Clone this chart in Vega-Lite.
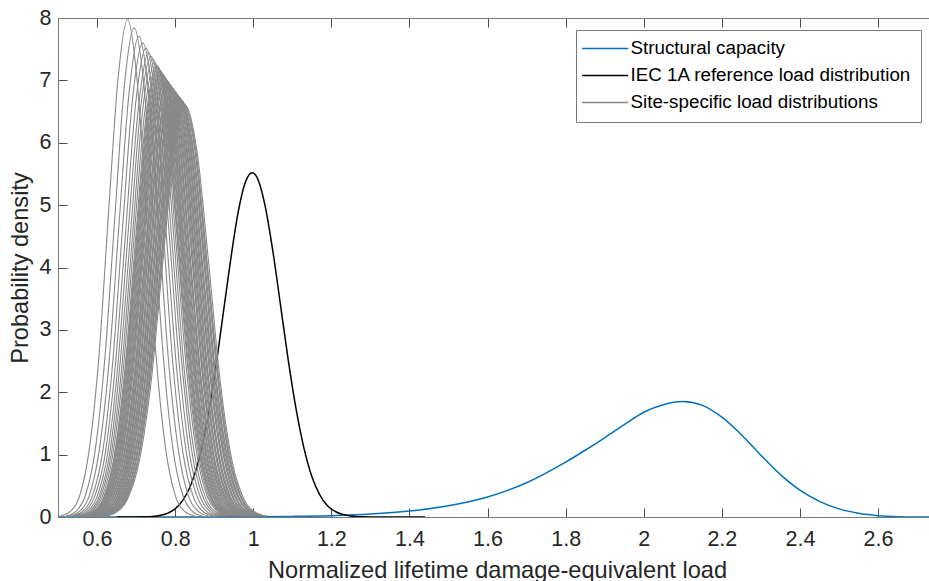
{
"$schema": "https://vega.github.io/schema/vega-lite/v6.json",
"width": 871, "height": 499,
"autosize": {"type": "none"},
"padding": {"left": 58, "top": 18, "right": 0, "bottom": 64},
"background": "white",
"config": {"view": {"stroke": null}, "font": "Liberation Sans"},
"datasets": {
"cap": [
{"x":0.5,"y":0},{"x":0.6,"y":0},{"x":0.7,"y":0},{"x":0.8,"y":0.001},{"x":0.9,"y":0.002},{"x":1.0,"y":0.004},{"x":1.1,"y":0.01},{"x":1.2,"y":0.022},{"x":1.3,"y":0.047},{"x":1.4,"y":0.095},{"x":1.5,"y":0.18},{"x":1.6,"y":0.32},{"x":1.7,"y":0.55},{"x":1.8,"y":0.88},{"x":1.85,"y":1.07},{"x":1.9,"y":1.27},{"x":1.95,"y":1.48},{"x":2.0,"y":1.68},{"x":2.05,"y":1.8},{"x":2.1,"y":1.85},{"x":2.15,"y":1.79},{"x":2.2,"y":1.6},{"x":2.25,"y":1.32},{"x":2.3,"y":0.99},{"x":2.35,"y":0.68},{"x":2.4,"y":0.43},{"x":2.45,"y":0.25},{"x":2.5,"y":0.13},{"x":2.55,"y":0.06},{"x":2.6,"y":0.022},{"x":2.65,"y":0.006},{"x":2.7,"y":0.001},{"x":2.75,"y":0}
],
"iec": [
{"x":0.65,"y":0},{"x":0.7,"y":0.001},{"x":0.72,"y":0.003},{"x":0.74,"y":0.009},{"x":0.76,"y":0.024},{"x":0.78,"y":0.059},{"x":0.8,"y":0.13},{"x":0.82,"y":0.27},{"x":0.84,"y":0.51},{"x":0.86,"y":0.9},{"x":0.88,"y":1.47},{"x":0.9,"y":2.23},{"x":0.92,"y":3.12},{"x":0.94,"y":4.03},{"x":0.96,"y":4.84},{"x":0.98,"y":5.37},{"x":0.997,"y":5.52},{"x":1.01,"y":5.44},{"x":1.03,"y":5.0},{"x":1.05,"y":4.27},{"x":1.07,"y":3.39},{"x":1.09,"y":2.5},{"x":1.11,"y":1.72},{"x":1.13,"y":1.1},{"x":1.15,"y":0.65},{"x":1.17,"y":0.36},{"x":1.19,"y":0.18},{"x":1.21,"y":0.088},{"x":1.23,"y":0.039},{"x":1.25,"y":0.016},{"x":1.28,"y":0.004},{"x":1.32,"y":0.0005},{"x":1.44,"y":0}
],
"site": [
{"c":1,"x":0.507,"y":0.018},{"c":1,"x":0.532,"y":0.089},{"c":1,"x":0.556,"y":0.35},{"c":1,"x":0.58,"y":1.08},{"c":1,"x":0.605,"y":2.591},{"c":1,"x":0.629,"y":4.84},{"c":1,"x":0.654,"y":7.042},{"c":1,"x":0.678,"y":7.98},{"c":1,"x":0.702,"y":7.042},{"c":1,"x":0.727,"y":4.84},{"c":1,"x":0.751,"y":2.591},{"c":1,"x":0.776,"y":1.08},{"c":1,"x":0.8,"y":0.35},{"c":1,"x":0.824,"y":0.089},{"c":1,"x":0.849,"y":0.018},
{"c":2,"x":0.52,"y":0.017},{"c":2,"x":0.545,"y":0.087},{"c":2,"x":0.57,"y":0.344},{"c":2,"x":0.595,"y":1.061},{"c":2,"x":0.62,"y":2.546},{"c":2,"x":0.645,"y":4.756},{"c":2,"x":0.67,"y":6.92},{"c":2,"x":0.695,"y":7.842},{"c":2,"x":0.72,"y":6.92},{"c":2,"x":0.745,"y":4.756},{"c":2,"x":0.77,"y":2.546},{"c":2,"x":0.795,"y":1.061},{"c":2,"x":0.82,"y":0.344},{"c":2,"x":0.845,"y":0.087},{"c":2,"x":0.87,"y":0.017},
{"c":3,"x":0.529,"y":0.017},{"c":3,"x":0.554,"y":0.086},{"c":3,"x":0.58,"y":0.338},{"c":3,"x":0.605,"y":1.043},{"c":3,"x":0.631,"y":2.503},{"c":3,"x":0.656,"y":4.675},{"c":3,"x":0.682,"y":6.803},{"c":3,"x":0.707,"y":7.709},{"c":3,"x":0.732,"y":6.803},{"c":3,"x":0.758,"y":4.675},{"c":3,"x":0.783,"y":2.503},{"c":3,"x":0.809,"y":1.043},{"c":3,"x":0.834,"y":0.338},{"c":3,"x":0.86,"y":0.086},{"c":3,"x":0.885,"y":0.017},
{"c":4,"x":0.536,"y":0.017},{"c":4,"x":0.562,"y":0.084},{"c":4,"x":0.588,"y":0.334},{"c":4,"x":0.614,"y":1.028},{"c":4,"x":0.64,"y":2.468},{"c":4,"x":0.665,"y":4.61},{"c":4,"x":0.691,"y":6.708},{"c":4,"x":0.717,"y":7.601},{"c":4,"x":0.743,"y":6.708},{"c":4,"x":0.769,"y":4.61},{"c":4,"x":0.794,"y":2.468},{"c":4,"x":0.82,"y":1.028},{"c":4,"x":0.846,"y":0.334},{"c":4,"x":0.872,"y":0.084},{"c":4,"x":0.898,"y":0.017},
{"c":5,"x":0.542,"y":0.017},{"c":5,"x":0.568,"y":0.083},{"c":5,"x":0.594,"y":0.33},{"c":5,"x":0.621,"y":1.017},{"c":5,"x":0.647,"y":2.441},{"c":5,"x":0.673,"y":4.559},{"c":5,"x":0.699,"y":6.634},{"c":5,"x":0.725,"y":7.517},{"c":5,"x":0.751,"y":6.634},{"c":5,"x":0.777,"y":4.559},{"c":5,"x":0.803,"y":2.441},{"c":5,"x":0.829,"y":1.017},{"c":5,"x":0.856,"y":0.33},{"c":5,"x":0.882,"y":0.083},{"c":5,"x":0.908,"y":0.017},
{"c":6,"x":0.548,"y":0.016},{"c":6,"x":0.574,"y":0.083},{"c":6,"x":0.6,"y":0.327},{"c":6,"x":0.627,"y":1.007},{"c":6,"x":0.653,"y":2.417},{"c":6,"x":0.679,"y":4.515},{"c":6,"x":0.706,"y":6.57},{"c":6,"x":0.732,"y":7.445},{"c":6,"x":0.758,"y":6.57},{"c":6,"x":0.785,"y":4.515},{"c":6,"x":0.811,"y":2.417},{"c":6,"x":0.837,"y":1.007},{"c":6,"x":0.864,"y":0.327},{"c":6,"x":0.89,"y":0.083},{"c":6,"x":0.916,"y":0.016},
{"c":7,"x":0.552,"y":0.016},{"c":7,"x":0.579,"y":0.082},{"c":7,"x":0.605,"y":0.324},{"c":7,"x":0.632,"y":0.999},{"c":7,"x":0.658,"y":2.398},{"c":7,"x":0.685,"y":4.479},{"c":7,"x":0.711,"y":6.517},{"c":7,"x":0.738,"y":7.385},{"c":7,"x":0.765,"y":6.517},{"c":7,"x":0.791,"y":4.479},{"c":7,"x":0.818,"y":2.398},{"c":7,"x":0.844,"y":0.999},{"c":7,"x":0.871,"y":0.324},{"c":7,"x":0.897,"y":0.082},{"c":7,"x":0.924,"y":0.016},
{"c":8,"x":0.556,"y":0.016},{"c":8,"x":0.583,"y":0.081},{"c":8,"x":0.609,"y":0.322},{"c":8,"x":0.636,"y":0.992},{"c":8,"x":0.663,"y":2.382},{"c":8,"x":0.69,"y":4.449},{"c":8,"x":0.716,"y":6.473},{"c":8,"x":0.743,"y":7.335},{"c":8,"x":0.77,"y":6.473},{"c":8,"x":0.797,"y":4.449},{"c":8,"x":0.823,"y":2.382},{"c":8,"x":0.85,"y":0.992},{"c":8,"x":0.877,"y":0.322},{"c":8,"x":0.904,"y":0.081},{"c":8,"x":0.93,"y":0.016},
{"c":9,"x":0.56,"y":0.016},{"c":9,"x":0.586,"y":0.081},{"c":9,"x":0.613,"y":0.32},{"c":9,"x":0.64,"y":0.986},{"c":9,"x":0.667,"y":2.366},{"c":9,"x":0.694,"y":4.419},{"c":9,"x":0.721,"y":6.43},{"c":9,"x":0.748,"y":7.286},{"c":9,"x":0.775,"y":6.43},{"c":9,"x":0.802,"y":4.419},{"c":9,"x":0.829,"y":2.366},{"c":9,"x":0.856,"y":0.986},{"c":9,"x":0.883,"y":0.32},{"c":9,"x":0.91,"y":0.081},{"c":9,"x":0.936,"y":0.016},
{"c":10,"x":0.562,"y":0.016},{"c":10,"x":0.59,"y":0.08},{"c":10,"x":0.617,"y":0.318},{"c":10,"x":0.644,"y":0.981},{"c":10,"x":0.671,"y":2.353},{"c":10,"x":0.698,"y":4.395},{"c":10,"x":0.725,"y":6.396},{"c":10,"x":0.752,"y":7.247},{"c":10,"x":0.779,"y":6.396},{"c":10,"x":0.806,"y":4.395},{"c":10,"x":0.833,"y":2.353},{"c":10,"x":0.86,"y":0.981},{"c":10,"x":0.887,"y":0.318},{"c":10,"x":0.914,"y":0.08},{"c":10,"x":0.942,"y":0.016},
{"c":11,"x":0.565,"y":0.016},{"c":11,"x":0.593,"y":0.08},{"c":11,"x":0.62,"y":0.316},{"c":11,"x":0.647,"y":0.975},{"c":11,"x":0.674,"y":2.341},{"c":11,"x":0.702,"y":4.372},{"c":11,"x":0.729,"y":6.362},{"c":11,"x":0.756,"y":7.209},{"c":11,"x":0.783,"y":6.362},{"c":11,"x":0.81,"y":4.372},{"c":11,"x":0.838,"y":2.341},{"c":11,"x":0.865,"y":0.975},{"c":11,"x":0.892,"y":0.316},{"c":11,"x":0.919,"y":0.08},{"c":11,"x":0.947,"y":0.016},
{"c":12,"x":0.568,"y":0.016},{"c":12,"x":0.596,"y":0.08},{"c":12,"x":0.623,"y":0.315},{"c":12,"x":0.651,"y":0.97},{"c":12,"x":0.678,"y":2.328},{"c":12,"x":0.705,"y":4.349},{"c":12,"x":0.733,"y":6.328},{"c":12,"x":0.76,"y":7.171},{"c":12,"x":0.787,"y":6.328},{"c":12,"x":0.815,"y":4.349},{"c":12,"x":0.842,"y":2.328},{"c":12,"x":0.869,"y":0.97},{"c":12,"x":0.897,"y":0.315},{"c":12,"x":0.924,"y":0.08},{"c":12,"x":0.952,"y":0.016},
{"c":13,"x":0.571,"y":0.016},{"c":13,"x":0.599,"y":0.079},{"c":13,"x":0.626,"y":0.313},{"c":13,"x":0.654,"y":0.965},{"c":13,"x":0.681,"y":2.316},{"c":13,"x":0.709,"y":4.327},{"c":13,"x":0.736,"y":6.296},{"c":13,"x":0.764,"y":7.134},{"c":13,"x":0.792,"y":6.296},{"c":13,"x":0.819,"y":4.327},{"c":13,"x":0.847,"y":2.316},{"c":13,"x":0.874,"y":0.965},{"c":13,"x":0.902,"y":0.313},{"c":13,"x":0.929,"y":0.079},{"c":13,"x":0.957,"y":0.016},
{"c":14,"x":0.574,"y":0.016},{"c":14,"x":0.602,"y":0.079},{"c":14,"x":0.63,"y":0.312},{"c":14,"x":0.657,"y":0.96},{"c":14,"x":0.685,"y":2.304},{"c":14,"x":0.713,"y":4.304},{"c":14,"x":0.74,"y":6.262},{"c":14,"x":0.768,"y":7.096},{"c":14,"x":0.796,"y":6.262},{"c":14,"x":0.823,"y":4.304},{"c":14,"x":0.851,"y":2.304},{"c":14,"x":0.879,"y":0.96},{"c":14,"x":0.906,"y":0.312},{"c":14,"x":0.934,"y":0.079},{"c":14,"x":0.962,"y":0.016},
{"c":15,"x":0.577,"y":0.016},{"c":15,"x":0.605,"y":0.078},{"c":15,"x":0.633,"y":0.31},{"c":15,"x":0.661,"y":0.955},{"c":15,"x":0.689,"y":2.292},{"c":15,"x":0.716,"y":4.282},{"c":15,"x":0.744,"y":6.23},{"c":15,"x":0.772,"y":7.06},{"c":15,"x":0.8,"y":6.23},{"c":15,"x":0.828,"y":4.282},{"c":15,"x":0.855,"y":2.292},{"c":15,"x":0.883,"y":0.955},{"c":15,"x":0.911,"y":0.31},{"c":15,"x":0.939,"y":0.078},{"c":15,"x":0.967,"y":0.016},
{"c":16,"x":0.58,"y":0.015},{"c":16,"x":0.608,"y":0.078},{"c":16,"x":0.636,"y":0.308},{"c":16,"x":0.664,"y":0.95},{"c":16,"x":0.692,"y":2.28},{"c":16,"x":0.72,"y":4.259},{"c":16,"x":0.748,"y":6.198},{"c":16,"x":0.776,"y":7.023},{"c":16,"x":0.804,"y":6.198},{"c":16,"x":0.832,"y":4.259},{"c":16,"x":0.86,"y":2.28},{"c":16,"x":0.888,"y":0.95},{"c":16,"x":0.916,"y":0.308},{"c":16,"x":0.944,"y":0.078},{"c":16,"x":0.972,"y":0.015},
{"c":17,"x":0.583,"y":0.015},{"c":17,"x":0.611,"y":0.078},{"c":17,"x":0.639,"y":0.307},{"c":17,"x":0.667,"y":0.947},{"c":17,"x":0.695,"y":2.272},{"c":17,"x":0.723,"y":4.243},{"c":17,"x":0.751,"y":6.174},{"c":17,"x":0.779,"y":6.996},{"c":17,"x":0.807,"y":6.174},{"c":17,"x":0.835,"y":4.243},{"c":17,"x":0.863,"y":2.272},{"c":17,"x":0.891,"y":0.947},{"c":17,"x":0.919,"y":0.307},{"c":17,"x":0.947,"y":0.078},{"c":17,"x":0.975,"y":0.015},
{"c":18,"x":0.585,"y":0.015},{"c":18,"x":0.613,"y":0.077},{"c":18,"x":0.641,"y":0.306},{"c":18,"x":0.669,"y":0.943},{"c":18,"x":0.698,"y":2.263},{"c":18,"x":0.726,"y":4.227},{"c":18,"x":0.754,"y":6.15},{"c":18,"x":0.782,"y":6.969},{"c":18,"x":0.81,"y":6.15},{"c":18,"x":0.838,"y":4.227},{"c":18,"x":0.866,"y":2.263},{"c":18,"x":0.895,"y":0.943},{"c":18,"x":0.923,"y":0.306},{"c":18,"x":0.951,"y":0.077},{"c":18,"x":0.979,"y":0.015},
{"c":19,"x":0.587,"y":0.015},{"c":19,"x":0.615,"y":0.077},{"c":19,"x":0.644,"y":0.305},{"c":19,"x":0.672,"y":0.939},{"c":19,"x":0.7,"y":2.254},{"c":19,"x":0.728,"y":4.211},{"c":19,"x":0.757,"y":6.127},{"c":19,"x":0.785,"y":6.943},{"c":19,"x":0.813,"y":6.127},{"c":19,"x":0.842,"y":4.211},{"c":19,"x":0.87,"y":2.254},{"c":19,"x":0.898,"y":0.939},{"c":19,"x":0.926,"y":0.305},{"c":19,"x":0.955,"y":0.077},{"c":19,"x":0.983,"y":0.015},
{"c":20,"x":0.589,"y":0.015},{"c":20,"x":0.618,"y":0.077},{"c":20,"x":0.646,"y":0.304},{"c":20,"x":0.675,"y":0.936},{"c":20,"x":0.703,"y":2.246},{"c":20,"x":0.731,"y":4.195},{"c":20,"x":0.76,"y":6.103},{"c":20,"x":0.788,"y":6.916},{"c":20,"x":0.816,"y":6.103},{"c":20,"x":0.845,"y":4.195},{"c":20,"x":0.873,"y":2.246},{"c":20,"x":0.901,"y":0.936},{"c":20,"x":0.93,"y":0.304},{"c":20,"x":0.958,"y":0.077},{"c":20,"x":0.987,"y":0.015},
{"c":21,"x":0.592,"y":0.015},{"c":21,"x":0.62,"y":0.076},{"c":21,"x":0.649,"y":0.302},{"c":21,"x":0.677,"y":0.932},{"c":21,"x":0.706,"y":2.237},{"c":21,"x":0.734,"y":4.179},{"c":21,"x":0.763,"y":6.08},{"c":21,"x":0.791,"y":6.89},{"c":21,"x":0.819,"y":6.08},{"c":21,"x":0.848,"y":4.179},{"c":21,"x":0.876,"y":2.237},{"c":21,"x":0.905,"y":0.932},{"c":21,"x":0.933,"y":0.302},{"c":21,"x":0.962,"y":0.076},{"c":21,"x":0.99,"y":0.015},
{"c":22,"x":0.594,"y":0.015},{"c":22,"x":0.622,"y":0.076},{"c":22,"x":0.651,"y":0.301},{"c":22,"x":0.68,"y":0.929},{"c":22,"x":0.708,"y":2.229},{"c":22,"x":0.737,"y":4.163},{"c":22,"x":0.765,"y":6.057},{"c":22,"x":0.794,"y":6.864},{"c":22,"x":0.823,"y":6.057},{"c":22,"x":0.851,"y":4.163},{"c":22,"x":0.88,"y":2.229},{"c":22,"x":0.908,"y":0.929},{"c":22,"x":0.937,"y":0.301},{"c":22,"x":0.966,"y":0.076},{"c":22,"x":0.994,"y":0.015},
{"c":23,"x":0.596,"y":0.015},{"c":23,"x":0.625,"y":0.076},{"c":23,"x":0.654,"y":0.3},{"c":23,"x":0.682,"y":0.925},{"c":23,"x":0.711,"y":2.22},{"c":23,"x":0.74,"y":4.147},{"c":23,"x":0.768,"y":6.035},{"c":23,"x":0.797,"y":6.838},{"c":23,"x":0.826,"y":6.035},{"c":23,"x":0.854,"y":4.147},{"c":23,"x":0.883,"y":2.22},{"c":23,"x":0.912,"y":0.925},{"c":23,"x":0.94,"y":0.3},{"c":23,"x":0.969,"y":0.076},{"c":23,"x":0.998,"y":0.015},
{"c":24,"x":0.598,"y":0.015},{"c":24,"x":0.627,"y":0.076},{"c":24,"x":0.656,"y":0.299},{"c":24,"x":0.685,"y":0.922},{"c":24,"x":0.714,"y":2.212},{"c":24,"x":0.742,"y":4.132},{"c":24,"x":0.771,"y":6.012},{"c":24,"x":0.8,"y":6.813},{"c":24,"x":0.829,"y":6.012},{"c":24,"x":0.858,"y":4.132},{"c":24,"x":0.886,"y":2.212},{"c":24,"x":0.915,"y":0.922},{"c":24,"x":0.944,"y":0.299},{"c":24,"x":0.973,"y":0.076},{"c":24,"x":1.002,"y":0.015},
{"c":25,"x":0.601,"y":0.015},{"c":25,"x":0.63,"y":0.075},{"c":25,"x":0.658,"y":0.298},{"c":25,"x":0.687,"y":0.918},{"c":25,"x":0.716,"y":2.204},{"c":25,"x":0.745,"y":4.116},{"c":25,"x":0.774,"y":5.99},{"c":25,"x":0.803,"y":6.787},{"c":25,"x":0.832,"y":5.99},{"c":25,"x":0.861,"y":4.116},{"c":25,"x":0.89,"y":2.204},{"c":25,"x":0.919,"y":0.918},{"c":25,"x":0.948,"y":0.298},{"c":25,"x":0.976,"y":0.075},{"c":25,"x":1.005,"y":0.015},
{"c":26,"x":0.603,"y":0.015},{"c":26,"x":0.632,"y":0.075},{"c":26,"x":0.661,"y":0.297},{"c":26,"x":0.69,"y":0.915},{"c":26,"x":0.719,"y":2.196},{"c":26,"x":0.748,"y":4.101},{"c":26,"x":0.777,"y":5.967},{"c":26,"x":0.806,"y":6.762},{"c":26,"x":0.835,"y":5.967},{"c":26,"x":0.864,"y":4.101},{"c":26,"x":0.893,"y":2.196},{"c":26,"x":0.922,"y":0.915},{"c":26,"x":0.951,"y":0.297},{"c":26,"x":0.98,"y":0.075},{"c":26,"x":1.009,"y":0.015},
{"c":27,"x":0.605,"y":0.015},{"c":27,"x":0.634,"y":0.075},{"c":27,"x":0.663,"y":0.296},{"c":27,"x":0.693,"y":0.912},{"c":27,"x":0.722,"y":2.187},{"c":27,"x":0.751,"y":4.086},{"c":27,"x":0.78,"y":5.945},{"c":27,"x":0.809,"y":6.737},{"c":27,"x":0.838,"y":5.945},{"c":27,"x":0.867,"y":4.086},{"c":27,"x":0.896,"y":2.187},{"c":27,"x":0.926,"y":0.912},{"c":27,"x":0.955,"y":0.296},{"c":27,"x":0.984,"y":0.075},{"c":27,"x":1.013,"y":0.015},
{"c":28,"x":0.607,"y":0.015},{"c":28,"x":0.637,"y":0.075},{"c":28,"x":0.666,"y":0.295},{"c":28,"x":0.695,"y":0.908},{"c":28,"x":0.724,"y":2.179},{"c":28,"x":0.754,"y":4.071},{"c":28,"x":0.783,"y":5.923},{"c":28,"x":0.812,"y":6.712},{"c":28,"x":0.841,"y":5.923},{"c":28,"x":0.87,"y":4.071},{"c":28,"x":0.9,"y":2.179},{"c":28,"x":0.929,"y":0.908},{"c":28,"x":0.958,"y":0.295},{"c":28,"x":0.987,"y":0.075},{"c":28,"x":1.017,"y":0.015},
{"c":29,"x":0.61,"y":0.015},{"c":29,"x":0.639,"y":0.074},{"c":29,"x":0.668,"y":0.294},{"c":29,"x":0.698,"y":0.905},{"c":29,"x":0.727,"y":2.171},{"c":29,"x":0.756,"y":4.056},{"c":29,"x":0.786,"y":5.901},{"c":29,"x":0.815,"y":6.687},{"c":29,"x":0.844,"y":5.901},{"c":29,"x":0.874,"y":4.056},{"c":29,"x":0.903,"y":2.171},{"c":29,"x":0.932,"y":0.905},{"c":29,"x":0.962,"y":0.294},{"c":29,"x":0.991,"y":0.074},{"c":29,"x":1.02,"y":0.015},
{"c":30,"x":0.612,"y":0.015},{"c":30,"x":0.641,"y":0.074},{"c":30,"x":0.671,"y":0.293},{"c":30,"x":0.7,"y":0.901},{"c":30,"x":0.73,"y":2.163},{"c":30,"x":0.759,"y":4.041},{"c":30,"x":0.789,"y":5.88},{"c":30,"x":0.818,"y":6.663},{"c":30,"x":0.847,"y":5.88},{"c":30,"x":0.877,"y":4.041},{"c":30,"x":0.906,"y":2.163},{"c":30,"x":0.936,"y":0.901},{"c":30,"x":0.965,"y":0.293},{"c":30,"x":0.995,"y":0.074},{"c":30,"x":1.024,"y":0.015},
{"c":31,"x":0.614,"y":0.015},{"c":31,"x":0.644,"y":0.074},{"c":31,"x":0.673,"y":0.291},{"c":31,"x":0.703,"y":0.898},{"c":31,"x":0.732,"y":2.155},{"c":31,"x":0.762,"y":4.026},{"c":31,"x":0.791,"y":5.858},{"c":31,"x":0.821,"y":6.638},{"c":31,"x":0.851,"y":5.858},{"c":31,"x":0.88,"y":4.026},{"c":31,"x":0.91,"y":2.155},{"c":31,"x":0.939,"y":0.898},{"c":31,"x":0.969,"y":0.291},{"c":31,"x":0.998,"y":0.074},{"c":31,"x":1.028,"y":0.015},
{"c":32,"x":0.616,"y":0.015},{"c":32,"x":0.646,"y":0.073},{"c":32,"x":0.676,"y":0.29},{"c":32,"x":0.705,"y":0.895},{"c":32,"x":0.735,"y":2.148},{"c":32,"x":0.765,"y":4.011},{"c":32,"x":0.794,"y":5.837},{"c":32,"x":0.824,"y":6.614},{"c":32,"x":0.854,"y":5.837},{"c":32,"x":0.883,"y":4.011},{"c":32,"x":0.913,"y":2.148},{"c":32,"x":0.943,"y":0.895},{"c":32,"x":0.972,"y":0.29},{"c":32,"x":1.002,"y":0.073},{"c":32,"x":1.032,"y":0.015},
{"c":33,"x":0.619,"y":0.014},{"c":33,"x":0.648,"y":0.073},{"c":33,"x":0.678,"y":0.289},{"c":33,"x":0.708,"y":0.892},{"c":33,"x":0.738,"y":2.14},{"c":33,"x":0.767,"y":3.997},{"c":33,"x":0.797,"y":5.816},{"c":33,"x":0.827,"y":6.59},{"c":33,"x":0.857,"y":5.816},{"c":33,"x":0.887,"y":3.997},{"c":33,"x":0.916,"y":2.14},{"c":33,"x":0.946,"y":0.892},{"c":33,"x":0.976,"y":0.289},{"c":33,"x":1.006,"y":0.073},{"c":33,"x":1.035,"y":0.014},
{"c":34,"x":0.564,"y":0.016},{"c":34,"x":0.591,"y":0.08},{"c":34,"x":0.618,"y":0.317},{"c":34,"x":0.645,"y":0.978},{"c":34,"x":0.673,"y":2.347},{"c":34,"x":0.7,"y":4.384},{"c":34,"x":0.727,"y":6.379},{"c":34,"x":0.754,"y":7.228},{"c":34,"x":0.781,"y":6.379},{"c":34,"x":0.808,"y":4.384},{"c":34,"x":0.835,"y":2.347},{"c":34,"x":0.863,"y":0.978},{"c":34,"x":0.89,"y":0.317},{"c":34,"x":0.917,"y":0.08},{"c":34,"x":0.944,"y":0.016},
{"c":35,"x":0.567,"y":0.016},{"c":35,"x":0.594,"y":0.08},{"c":35,"x":0.622,"y":0.316},{"c":35,"x":0.649,"y":0.973},{"c":35,"x":0.676,"y":2.335},{"c":35,"x":0.703,"y":4.361},{"c":35,"x":0.731,"y":6.345},{"c":35,"x":0.758,"y":7.19},{"c":35,"x":0.785,"y":6.345},{"c":35,"x":0.813,"y":4.361},{"c":35,"x":0.84,"y":2.335},{"c":35,"x":0.867,"y":0.973},{"c":35,"x":0.894,"y":0.316},{"c":35,"x":0.922,"y":0.08},{"c":35,"x":0.949,"y":0.016},
{"c":36,"x":0.57,"y":0.016},{"c":36,"x":0.597,"y":0.079},{"c":36,"x":0.625,"y":0.314},{"c":36,"x":0.652,"y":0.968},{"c":36,"x":0.68,"y":2.322},{"c":36,"x":0.707,"y":4.338},{"c":36,"x":0.735,"y":6.312},{"c":36,"x":0.762,"y":7.152},{"c":36,"x":0.789,"y":6.312},{"c":36,"x":0.817,"y":4.338},{"c":36,"x":0.844,"y":2.322},{"c":36,"x":0.872,"y":0.968},{"c":36,"x":0.899,"y":0.314},{"c":36,"x":0.927,"y":0.079},{"c":36,"x":0.954,"y":0.016},
{"c":37,"x":0.573,"y":0.016},{"c":37,"x":0.601,"y":0.079},{"c":37,"x":0.628,"y":0.312},{"c":37,"x":0.656,"y":0.963},{"c":37,"x":0.683,"y":2.31},{"c":37,"x":0.711,"y":4.315},{"c":37,"x":0.738,"y":6.279},{"c":37,"x":0.766,"y":7.115},{"c":37,"x":0.794,"y":6.279},{"c":37,"x":0.821,"y":4.315},{"c":37,"x":0.849,"y":2.31},{"c":37,"x":0.876,"y":0.963},{"c":37,"x":0.904,"y":0.312},{"c":37,"x":0.932,"y":0.079},{"c":37,"x":0.959,"y":0.016},
{"c":38,"x":0.576,"y":0.016},{"c":38,"x":0.604,"y":0.079},{"c":38,"x":0.631,"y":0.311},{"c":38,"x":0.659,"y":0.958},{"c":38,"x":0.687,"y":2.298},{"c":38,"x":0.715,"y":4.293},{"c":38,"x":0.742,"y":6.246},{"c":38,"x":0.77,"y":7.078},{"c":38,"x":0.798,"y":6.246},{"c":38,"x":0.825,"y":4.293},{"c":38,"x":0.853,"y":2.298},{"c":38,"x":0.881,"y":0.958},{"c":38,"x":0.909,"y":0.311},{"c":38,"x":0.936,"y":0.079},{"c":38,"x":0.964,"y":0.016},
{"c":39,"x":0.579,"y":0.015},{"c":39,"x":0.607,"y":0.078},{"c":39,"x":0.635,"y":0.309},{"c":39,"x":0.663,"y":0.953},{"c":39,"x":0.69,"y":2.286},{"c":39,"x":0.718,"y":4.27},{"c":39,"x":0.746,"y":6.214},{"c":39,"x":0.774,"y":7.041},{"c":39,"x":0.802,"y":6.214},{"c":39,"x":0.83,"y":4.27},{"c":39,"x":0.858,"y":2.286},{"c":39,"x":0.886,"y":0.953},{"c":39,"x":0.913,"y":0.309},{"c":39,"x":0.941,"y":0.078},{"c":39,"x":0.969,"y":0.015},
{"c":40,"x":0.584,"y":0.015},{"c":40,"x":0.612,"y":0.078},{"c":40,"x":0.64,"y":0.307},{"c":40,"x":0.668,"y":0.945},{"c":40,"x":0.696,"y":2.267},{"c":40,"x":0.724,"y":4.235},{"c":40,"x":0.752,"y":6.162},{"c":40,"x":0.781,"y":6.983},{"c":40,"x":0.809,"y":6.162},{"c":40,"x":0.837,"y":4.235},{"c":40,"x":0.865,"y":2.267},{"c":40,"x":0.893,"y":0.945},{"c":40,"x":0.921,"y":0.307},{"c":40,"x":0.949,"y":0.078},{"c":40,"x":0.977,"y":0.015},
{"c":41,"x":0.588,"y":0.015},{"c":41,"x":0.617,"y":0.077},{"c":41,"x":0.645,"y":0.304},{"c":41,"x":0.673,"y":0.938},{"c":41,"x":0.702,"y":2.25},{"c":41,"x":0.73,"y":4.202},{"c":41,"x":0.758,"y":6.115},{"c":41,"x":0.787,"y":6.929},{"c":41,"x":0.815,"y":6.115},{"c":41,"x":0.843,"y":4.202},{"c":41,"x":0.871,"y":2.25},{"c":41,"x":0.9,"y":0.938},{"c":41,"x":0.928,"y":0.304},{"c":41,"x":0.956,"y":0.077},{"c":41,"x":0.985,"y":0.015},
{"c":42,"x":0.593,"y":0.015},{"c":42,"x":0.621,"y":0.076},{"c":42,"x":0.65,"y":0.302},{"c":42,"x":0.678,"y":0.93},{"c":42,"x":0.707,"y":2.233},{"c":42,"x":0.735,"y":4.171},{"c":42,"x":0.764,"y":6.069},{"c":42,"x":0.793,"y":6.877},{"c":42,"x":0.821,"y":6.069},{"c":42,"x":0.85,"y":4.171},{"c":42,"x":0.878,"y":2.233},{"c":42,"x":0.907,"y":0.93},{"c":42,"x":0.935,"y":0.302},{"c":42,"x":0.964,"y":0.076},{"c":42,"x":0.992,"y":0.015},
{"c":43,"x":0.597,"y":0.015},{"c":43,"x":0.626,"y":0.076},{"c":43,"x":0.655,"y":0.3},{"c":43,"x":0.683,"y":0.923},{"c":43,"x":0.712,"y":2.216},{"c":43,"x":0.741,"y":4.139},{"c":43,"x":0.77,"y":6.023},{"c":43,"x":0.799,"y":6.825},{"c":43,"x":0.827,"y":6.023},{"c":43,"x":0.856,"y":4.139},{"c":43,"x":0.885,"y":2.216},{"c":43,"x":0.913,"y":0.923},{"c":43,"x":0.942,"y":0.3},{"c":43,"x":0.971,"y":0.076},{"c":43,"x":1.0,"y":0.015},
{"c":44,"x":0.602,"y":0.015},{"c":44,"x":0.631,"y":0.075},{"c":44,"x":0.66,"y":0.297},{"c":44,"x":0.689,"y":0.917},{"c":44,"x":0.718,"y":2.2},{"c":44,"x":0.747,"y":4.108},{"c":44,"x":0.776,"y":5.978},{"c":44,"x":0.805,"y":6.774},{"c":44,"x":0.834,"y":5.978},{"c":44,"x":0.862,"y":4.108},{"c":44,"x":0.891,"y":2.2},{"c":44,"x":0.92,"y":0.917},{"c":44,"x":0.949,"y":0.297},{"c":44,"x":0.978,"y":0.075},{"c":44,"x":1.007,"y":0.015},
{"c":45,"x":0.606,"y":0.015},{"c":45,"x":0.635,"y":0.075},{"c":45,"x":0.665,"y":0.295},{"c":45,"x":0.694,"y":0.91},{"c":45,"x":0.723,"y":2.183},{"c":45,"x":0.752,"y":4.078},{"c":45,"x":0.781,"y":5.934},{"c":45,"x":0.811,"y":6.724},{"c":45,"x":0.84,"y":5.934},{"c":45,"x":0.869,"y":4.078},{"c":45,"x":0.898,"y":2.183},{"c":45,"x":0.927,"y":0.91},{"c":45,"x":0.956,"y":0.295},{"c":45,"x":0.986,"y":0.075},{"c":45,"x":1.015,"y":0.015},
{"c":46,"x":0.611,"y":0.015},{"c":46,"x":0.64,"y":0.074},{"c":46,"x":0.67,"y":0.293},{"c":46,"x":0.699,"y":0.903},{"c":46,"x":0.728,"y":2.167},{"c":46,"x":0.758,"y":4.048},{"c":46,"x":0.787,"y":5.891},{"c":46,"x":0.817,"y":6.675},{"c":46,"x":0.846,"y":5.891},{"c":46,"x":0.875,"y":4.048},{"c":46,"x":0.905,"y":2.167},{"c":46,"x":0.934,"y":0.903},{"c":46,"x":0.964,"y":0.293},{"c":46,"x":0.993,"y":0.074},{"c":46,"x":1.022,"y":0.015},
{"c":47,"x":0.615,"y":0.015},{"c":47,"x":0.645,"y":0.074},{"c":47,"x":0.674,"y":0.291},{"c":47,"x":0.704,"y":0.896},{"c":47,"x":0.734,"y":2.151},{"c":47,"x":0.763,"y":4.019},{"c":47,"x":0.793,"y":5.847},{"c":47,"x":0.823,"y":6.626},{"c":47,"x":0.852,"y":5.847},{"c":47,"x":0.882,"y":4.019},{"c":47,"x":0.911,"y":2.151},{"c":47,"x":0.941,"y":0.896},{"c":47,"x":0.971,"y":0.291},{"c":47,"x":1.0,"y":0.074},{"c":47,"x":1.03,"y":0.015}
]
},
"resolve": {"axis": {"x": "independent", "y": "independent"}},
"layer": [
{
"data": {"name": "cap"},
"mark": {"type": "line", "interpolate": "monotone", "clip": true, "strokeWidth": 1.5},
"encoding": {
"x": {"field": "x", "type": "quantitative", "scale": {"domain": [0.5, 2.7305], "nice": false, "zero": false},
"axis": {"orient": "bottom", "values": [0.6,0.8,1,1.2,1.4,1.6,1.8,2,2.2,2.4,2.6], "format": "~g", "ticks": false, "grid": true, "gridDash": [9, 2000], "gridColor": "#4d4d4d", "gridWidth": 1, "gridOpacity": 1, "domainColor": "#7a7a7a", "labelFontSize": 21.5, "labelColor": "#262626", "labelPadding": 11, "title": "Normalized lifetime damage-equivalent load", "titleFontSize": 23.6, "titleFontWeight": "normal", "titleColor": "#262626", "titleX": 439, "titleY": 60, "titleBaseline": "alphabetic", "titleAlign": "center"}},
"y": {"field": "y", "type": "quantitative", "scale": {"domain": [0, 8], "nice": false},
"axis": {"values": [0,1,2,3,4,5,6,7,8], "format": "d", "ticks": false, "grid": true, "gridDash": [9, 2000], "gridColor": "#4d4d4d", "gridWidth": 1, "gridOpacity": 1, "domainColor": "#7a7a7a", "labelFontSize": 21.5, "labelColor": "#262626", "labelPadding": 7, "title": "Probability density", "titleFontSize": 23.6, "titleFontWeight": "normal", "titleColor": "#262626", "titleX": -31, "titleY": 249.5, "titleBaseline": "alphabetic", "titleAlign": "center", "titleAngle": -90}},
"color": {"datum": "Structural capacity", "type": "nominal",
"scale": {"domain": ["Structural capacity", "IEC 1A reference load distribution", "Site-specific load distributions"], "range": ["#0072BD", "#000000", "#888888"]},
"legend": {"orient": "none", "legendX": 518, "legendY": 12, "title": null, "symbolType": "M-1.6,0H4.4", "symbolSize": 235, "symbolStrokeWidth": 1.5, "labelFontSize": 18.8, "labelColor": "#000000", "labelOffset": 26.7, "labelLimit": 400, "padding": 9, "rowPadding": 7, "strokeColor": "#7a7a7a", "fillColor": "white"}}
}
},
{
"data": {"name": "iec"},
"mark": {"type": "line", "interpolate": "monotone", "clip": true, "strokeWidth": 1.5},
"encoding": {
"x": {"field": "x", "type": "quantitative", "axis": null},
"y": {"field": "y", "type": "quantitative", "axis": null},
"color": {"datum": "IEC 1A reference load distribution", "type": "nominal"}
}
},
{
"data": {"name": "site"},
"mark": {"type": "line", "interpolate": "monotone", "clip": true, "strokeWidth": 1.1},
"encoding": {
"x": {"field": "x", "type": "quantitative", "axis": null},
"y": {"field": "y", "type": "quantitative", "axis": null},
"detail": {"field": "c", "type": "nominal"},
"color": {"datum": "Site-specific load distributions", "type": "nominal"}
}
},
{
"data": {"name": "cap"},
"mark": {"type": "line", "opacity": 0},
"encoding": {
"x": {"field": "x", "type": "quantitative", "axis": {"orient": "top", "values": [0.6,0.8,1,1.2,1.4,1.6,1.8,2,2.2,2.4,2.6], "labels": false, "title": null, "ticks": false, "grid": true, "gridDash": [9, 2000], "gridColor": "#4d4d4d", "gridWidth": 1, "gridOpacity": 1, "domainColor": "#7a7a7a"}},
"y": {"field": "y", "type": "quantitative", "axis": null}
}
}
]
}
